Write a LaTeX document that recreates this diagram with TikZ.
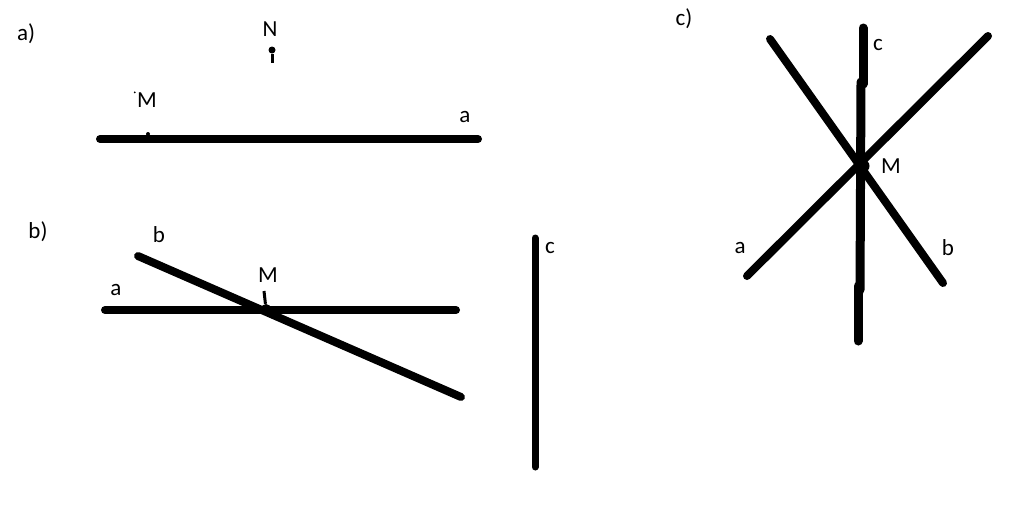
\documentclass[tikz,border=0pt]{standalone}
\usepackage{fontspec}
\setmainfont{Carlito}
\usetikzlibrary{positioning}
\tikzstyle{stroke} = [draw, line width=8pt, line cap=round]
\tikzstyle{thin} = [draw, line width=3pt]
\tikzstyle{lbl} = [inner sep=0pt, font=\fontsize{23}{27}\selectfont]
\tikzstyle{pt} = [circle, fill, inner sep=0pt, minimum size=4pt]

\begin{document}
\begin{tikzpicture}[x=1pt, y=-1pt]
    \useasboundingbox (0,0) rectangle (1024,528);

    % a)
    \node[lbl] (tagA) at (26,34) {a)};
    \coordinate (aL) at (100,139);
    \coordinate (aR) at (478,139);
    \path[stroke] (aL) -- (aR);
    \node[lbl] (aName) at (465,117) {a};
    \node[pt, minimum size=4pt] (M1) at (148,134) {};
    \node[lbl] (M1name) at (147,100) {M};
    \node[pt, minimum size=2pt, left=1pt of M1name.north west] {};
    \node[pt, minimum size=7pt] (N1) at (272,50) {};
    \coordinate (N1b) at (272,63);
    \path[thin] (N1) -- (N1b);
    \node[lbl] (N1name) at (270,29) {N};

    % b)
    \node[lbl] (tagB) at (38,232) {b)};
    \coordinate (bAL) at (105,310);
    \coordinate (bAR) at (456,310);
    \coordinate (bBL) at (138,256);
    \coordinate (bBR) at (461,397);
    \coordinate (bCT) at (535,238);
    \coordinate (bCB) at (535,467);
    \path[stroke] (bAL) -- (bAR);
    \path[stroke] (bBL) -- (bBR);
    \path[stroke, line width=7pt] (bCT) -- (bCB);
    \node[pt, minimum size=10pt] (M2) at (266,309) {};
    \coordinate (M2t) at (264,291);
    \path[thin] (M2) -- (M2t);
    \node[lbl] (M2name) at (268,275) {M};
    \node[lbl] (bAname) at (116,290) {a};
    \node[lbl] (bBname) at (159,235) {b};
    \node[lbl] (bCname) at (550,248) {c};

    % c)
    \node[lbl] (tagC) at (684,19) {c)};
    \coordinate (cAL) at (747,276);
    \coordinate (cAR) at (988,36);
    \coordinate (cBL) at (770,39);
    \coordinate (cBR) at (943,283);
    \coordinate (cC1) at (863,28);
    \coordinate (cC2) at (863,84);
    \coordinate (cC3) at (861,82);
    \coordinate (cC4) at (860,290);
    \coordinate (cC5) at (858,286);
    \coordinate (cC6) at (858,341);
    \path[stroke] (cAL) -- (cAR);
    \path[stroke] (cBL) -- (cBR);
    \path[stroke, line width=9pt] (cC1) -- (cC2);
    \path[stroke, line width=9pt] (cC3) -- (cC4);
    \path[stroke, line width=9pt] (cC5) -- (cC6);
    \node[pt, minimum size=13pt] (M3) at (863,166) {};
    \node[lbl] (M3name) at (891,166) {M};
    \node[lbl] (cAname) at (740,248) {a};
    \node[lbl] (cBname) at (948,248) {b};
    \node[lbl] (cCname) at (878,45) {c};
\end{tikzpicture}
\end{document}
